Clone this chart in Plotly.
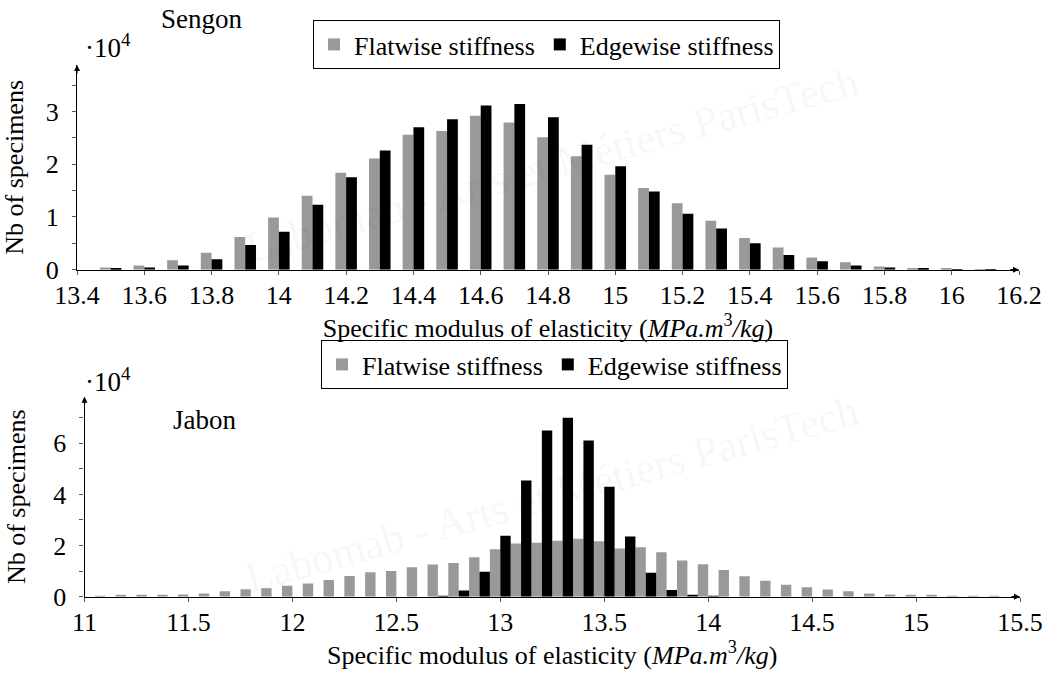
import plotly.graph_objects as go

# ---------------- data (values in units of 10^4 specimens) ----------------
sengon_bins = [13.5, 13.6, 13.7, 13.8, 13.9, 14.0, 14.1, 14.2, 14.3, 14.4, 14.5, 14.6, 14.7,
               14.8, 14.9, 15.0, 15.1, 15.2, 15.3, 15.4, 15.5, 15.6, 15.7, 15.8, 15.9, 16.0, 16.1]
sengon_flat = [0.04, 0.08, 0.18, 0.32, 0.62, 0.99, 1.40, 1.84, 2.11, 2.56, 2.63, 2.92, 2.79,
               2.51, 2.15, 1.80, 1.55, 1.26, 0.93, 0.60, 0.42, 0.23, 0.14, 0.06, 0.03, 0.02, 0.01]
sengon_edge = [0.02, 0.04, 0.08, 0.20, 0.47, 0.72, 1.23, 1.75, 2.26, 2.70, 2.85, 3.11, 3.14,
               2.89, 2.37, 1.96, 1.48, 1.06, 0.78, 0.50, 0.28, 0.16, 0.08, 0.04, 0.02, 0.01, 0.005]

jabon_bins = [11.0, 11.1, 11.2, 11.3, 11.4, 11.5, 11.6, 11.7, 11.8, 11.9, 12.0, 12.1, 12.2, 12.3,
              12.4, 12.5, 12.6, 12.7, 12.8, 12.9, 13.0, 13.1, 13.2, 13.3, 13.4, 13.5, 13.6, 13.7,
              13.8, 13.9, 14.0, 14.1, 14.2, 14.3, 14.4, 14.5, 14.6, 14.7, 14.8, 14.9, 15.0, 15.1,
              15.2, 15.3, 15.4]
jabon_flat = [0.02, 0.03, 0.04, 0.06, 0.08, 0.09, 0.13, 0.21, 0.29, 0.33, 0.43, 0.52, 0.65, 0.81,
              0.96, 1.00, 1.15, 1.26, 1.32, 1.54, 1.86, 2.08, 2.11, 2.19, 2.27, 2.17, 1.88, 1.93,
              1.74, 1.42, 1.27, 1.04, 0.80, 0.62, 0.47, 0.37, 0.28, 0.21, 0.13, 0.09, 0.07, 0.04,
              0.02, 0.01, 0.005]
jabon_edge = [0, 0, 0, 0, 0, 0, 0, 0, 0, 0, 0, 0, 0, 0,
              0, 0, 0, 0.03, 0.24, 0.98, 2.38, 4.54, 6.50, 7.00, 6.11, 4.30, 2.35, 0.94,
              0.26, 0.06, 0.01, 0, 0, 0, 0, 0, 0, 0, 0, 0, 0, 0,
              0, 0, 0]

sengon_xticks = [13.4, 13.6, 13.8, 14.0, 14.2, 14.4, 14.6, 14.8, 15.0, 15.2, 15.4, 15.6, 15.8, 16.0, 16.2]
sengon_xlabels = ["13.4", "13.6", "13.8", "14", "14.2", "14.4", "14.6", "14.8", "15", "15.2",
                  "15.4", "15.6", "15.8", "16", "16.2"]
jabon_xticks = [11, 11.5, 12, 12.5, 13, 13.5, 14, 14.5, 15, 15.5]
jabon_xlabels = ["11", "11.5", "12", "12.5", "13", "13.5", "14", "14.5", "15", "15.5"]
sengon_yticks = [0, 1, 2, 3]
jabon_yticks = [0, 2, 4, 6]

series_names = ["Flatwise stiffness", "Edgewise stiffness"]
GRAY = "#999999"
BLACK = "#000000"
FONT = "Liberation Serif"

# ---------------- figure ----------------
fig = go.Figure()

w_top = 0.032
w_bot = 0.05
fig.add_trace(go.Bar(x=sengon_bins, y=sengon_flat, width=w_top, offset=-w_top, name=series_names[0],
                     marker=dict(color=GRAY, line=dict(width=0)), xaxis="x", yaxis="y", legend="legend"))
fig.add_trace(go.Bar(x=sengon_bins, y=sengon_edge, width=w_top, offset=0, name=series_names[1],
                     marker=dict(color=BLACK, line=dict(width=0)), xaxis="x", yaxis="y", legend="legend"))
fig.add_trace(go.Bar(x=jabon_bins, y=jabon_flat, width=w_bot, offset=-w_bot, name=series_names[0],
                     marker=dict(color=GRAY, line=dict(width=0)), xaxis="x2", yaxis="y2", legend="legend2"))
fig.add_trace(go.Bar(x=jabon_bins, y=jabon_edge, width=w_bot, offset=0, name=series_names[1],
                     marker=dict(color=BLACK, line=dict(width=0)), xaxis="x2", yaxis="y2", legend="legend2"))

W, H = 1056, 677
top_x = [77 / W, 1019 / W]
top_y = [(H - 269.7) / H, (H - 65) / H]
bot_x = [84.5 / W, 1020 / W]
bot_y = [(H - 596.7) / H, (H - 396.7) / H]

xtitle = "Specific modulus of elasticity (<i>MPa.m</i><sup>3</sup><i>/kg</i>)"
tickfont = dict(family=FONT, size=26, color="black")
titlefont = dict(family=FONT, size=26, color="black")

common_x = dict(showgrid=False, zeroline=False, showline=True, linecolor="black", linewidth=1.2,
                ticks="outside", ticklen=4, tickcolor="#555", tickwidth=1, tickfont=tickfont,
                ticklabelstandoff=-2, automargin=False)
common_y = dict(showgrid=False, zeroline=False, showline=True, linecolor="black", linewidth=1.2,
                ticks="outside", ticklen=4, tickcolor="#555", tickwidth=1, tickfont=tickfont,
                ticklabelstandoff=8, automargin=False)
overlay_common = dict(showticklabels=False, ticks="inside", ticklen=4, tickcolor="#555",
                      showline=False, showgrid=False, zeroline=False, automargin=False)

fig.update_layout(
    width=W, height=H,
    margin=dict(l=0, r=0, t=0, b=0, autoexpand=False),
    paper_bgcolor="white", plot_bgcolor="rgba(0,0,0,0)",
    barmode="overlay",
    font=dict(family=FONT, color="black"),
    xaxis=dict(domain=top_x, anchor="y", range=[13.4, 16.2], tickvals=sengon_xticks,
               ticktext=sengon_xlabels, title=dict(text=xtitle, font=titlefont, standoff=2),
               **common_x),
    yaxis=dict(domain=top_y, anchor="x", range=[0, 3.88], tickvals=sengon_yticks,
               title=dict(text="Nb of specimens", font=titlefont, standoff=20),
               minor=dict(dtick=0.5, ticks="outside", ticklen=4, tickcolor="#555"),
               **common_y),
    xaxis2=dict(domain=bot_x, anchor="y2", range=[11, 15.5], tickvals=jabon_xticks,
                ticktext=jabon_xlabels, title=dict(text=xtitle, font=titlefont, standoff=2),
                **common_x),
    yaxis2=dict(domain=bot_y, anchor="x2", range=[0, 7.82], tickvals=jabon_yticks,
                title=dict(text="Nb of specimens", font=titlefont, standoff=20),
                minor=dict(dtick=1, ticks="outside", ticklen=4, tickcolor="#555"),
                **common_y),
    # inside halves of the crossing tick marks
    xaxis3=dict(domain=top_x, anchor="y", overlaying="x", range=[13.4, 16.2], tickvals=sengon_xticks,
                **overlay_common),
    yaxis3=dict(domain=top_y, anchor="x", overlaying="y", range=[0, 3.88], tickvals=sengon_yticks,
                minor=dict(dtick=0.5, ticks="inside", ticklen=4, tickcolor="#555"), **overlay_common),
    xaxis4=dict(domain=bot_x, anchor="y2", overlaying="x2", range=[11, 15.5], tickvals=jabon_xticks,
                **overlay_common),
    yaxis4=dict(domain=bot_y, anchor="x2", overlaying="y2", range=[0, 7.82], tickvals=jabon_yticks,
                minor=dict(dtick=1, ticks="inside", ticklen=4, tickcolor="#555"), **overlay_common),
    legend=dict(x=313 / W, y=1 - 20 / H, xanchor="left", yanchor="top", orientation="h",
                bordercolor="black", borderwidth=1, bgcolor="white",
                font=dict(family=FONT, size=26, color="black"), itemwidth=30, tracegroupgap=0),
    legend2=dict(x=321 / W, y=1 - 340 / H, xanchor="left", yanchor="top", orientation="h",
                 bordercolor="black", borderwidth=1, bgcolor="white",
                 font=dict(family=FONT, size=26, color="black"), itemwidth=30, tracegroupgap=0),
)

annotations = []
# watermarks
for cy in [164, 494]:
    annotations.append(dict(text="Labomab - Arts et Métiers ParisTech", x=551 / W, y=1 - cy / H,
                            xref="paper", yref="paper", showarrow=False, textangle=-15.5,
                            xanchor="center", yanchor="middle",
                            font=dict(family=FONT, size=43, color="rgba(0,0,0,0.05)")))
# species labels
annotations.append(dict(text="Sengon", x=202 / W, y=1 - 19 / H, xref="paper", yref="paper",
                        xanchor="center", yanchor="middle",
                        showarrow=False, font=dict(family=FONT, size=27, color="black")))
annotations.append(dict(text="Jabon", x=204 / W, y=1 - 420 / H, xref="paper", yref="paper",
                        xanchor="center", yanchor="middle",
                        showarrow=False, font=dict(family=FONT, size=27, color="black")))
# scale factors
for cy in [46, 380]:
    annotations.append(dict(text="·10<sup>4</sup>", x=108 / W, y=1 - cy / H, xref="paper", yref="paper",
                            xanchor="center", yanchor="middle",
                            showarrow=False, font=dict(family=FONT, size=27, color="black")))
# axis arrows
for xr, yr in [("x", "y"), ("x2", "y2")]:
    annotations.append(dict(x=1, y=0, xref=xr + " domain", yref=yr + " domain", ax=-10, ay=0,
                            axref="pixel", ayref="pixel", showarrow=True, arrowhead=2, arrowsize=1,
                            arrowwidth=1.2, arrowcolor="black", text=""))
    annotations.append(dict(x=0, y=1, xref=xr + " domain", yref=yr + " domain", ax=0, ay=10,
                            axref="pixel", ayref="pixel", showarrow=True, arrowhead=2, arrowsize=1,
                            arrowwidth=1.2, arrowcolor="black", text=""))
fig.update_layout(annotations=annotations)

fig.write_html("out.html", config={"displayModeBar": False},
               post_script="document.body.style.margin='0';document.body.style.overflow='hidden';")
